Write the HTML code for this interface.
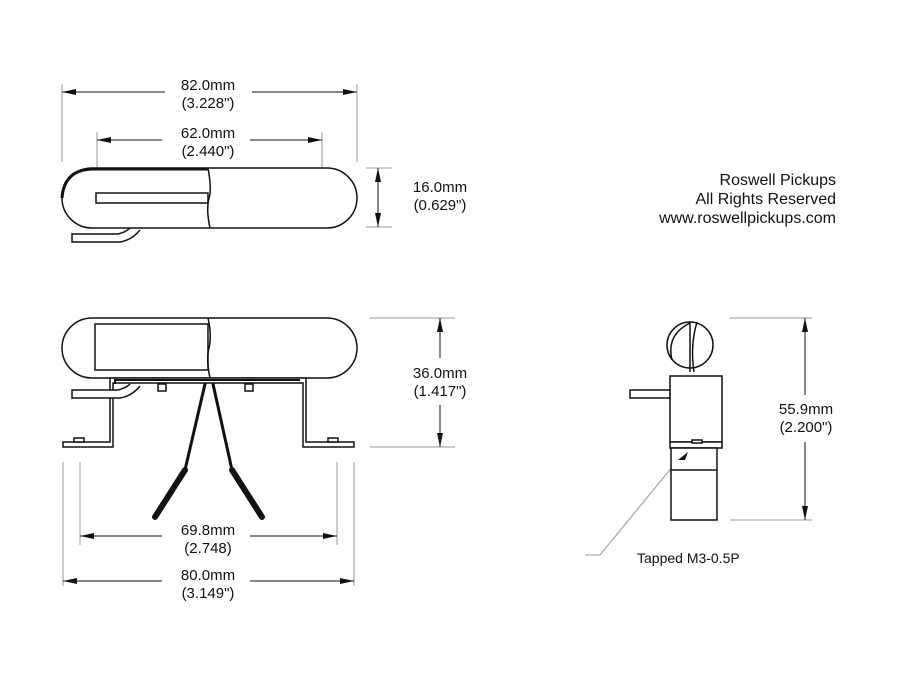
<!DOCTYPE html>
<html><head><style>body{margin:0;background:#fff}svg{display:block}text{font-family:"Liberation Sans",sans-serif;fill:#111}</style></head><body>
<svg width="900" height="675" viewBox="0 0 900 675" xmlns="http://www.w3.org/2000/svg">
<defs><marker id="a" viewBox="0 0 14 6" refX="14" refY="3" markerWidth="14" markerHeight="6" orient="auto-start-reverse" markerUnits="userSpaceOnUse"><path d="M0,0L14,3L0,6z" fill="#111"/></marker></defs>
<g stroke="#999" stroke-width="1" fill="none">
<line x1="62" y1="84" x2="62" y2="162"/><line x1="357" y1="84" x2="357" y2="162"/>
<line x1="97" y1="132" x2="97" y2="182"/><line x1="322" y1="132" x2="322" y2="182"/>
<line x1="366" y1="168" x2="392" y2="168"/><line x1="366" y1="227" x2="392" y2="227"/>
<line x1="370" y1="318" x2="455" y2="318"/><line x1="370" y1="447" x2="455" y2="447"/>
<line x1="63" y1="462" x2="63" y2="586"/><line x1="354" y1="462" x2="354" y2="586"/>
<line x1="80" y1="462" x2="80" y2="545"/><line x1="337" y1="462" x2="337" y2="545"/>
<line x1="730" y1="318" x2="812" y2="318"/><line x1="730" y1="520" x2="812" y2="520"/>
<polyline points="682,455 600,555 585,555"/>
</g>
<g stroke="#111" stroke-width="1" fill="none">
<line x1="62" y1="92" x2="165" y2="92" marker-start="url(#a)"/><line x1="252" y1="92" x2="357" y2="92" marker-end="url(#a)"/>
<line x1="97" y1="140" x2="162" y2="140" marker-start="url(#a)"/><line x1="250" y1="140" x2="322" y2="140" marker-end="url(#a)"/>
<line x1="378" y1="168" x2="378" y2="227" marker-start="url(#a)" marker-end="url(#a)"/>
<line x1="80" y1="536" x2="162" y2="536" marker-start="url(#a)"/><line x1="250" y1="536" x2="337" y2="536" marker-end="url(#a)"/>
<line x1="63" y1="581" x2="162" y2="581" marker-start="url(#a)"/><line x1="250" y1="581" x2="354" y2="581" marker-end="url(#a)"/>
<line x1="440" y1="318" x2="440" y2="358" marker-start="url(#a)"/><line x1="440" y1="405" x2="440" y2="447" marker-end="url(#a)"/>
<line x1="805" y1="318" x2="805" y2="395" marker-start="url(#a)"/><line x1="805" y1="442" x2="805" y2="520" marker-end="url(#a)"/>
</g>
<g fill="#fff" stroke="#111" stroke-width="1.5">
<path d="M140,230 Q132,240 120,242 L72,242 L72,234 L118,234 Q126,232 130,228"/>
<rect x="62" y="168" width="295" height="60" rx="30"/>
<rect x="96" y="193" width="112" height="10" fill="#fff"/>
<path d="M208,168 Q212,190 209,198 Q206,210 210,228"/>
<path d="M62,198 Q64,170 92,169 L208,169" stroke-width="3" fill="none"/>
<rect x="62" y="318" width="295" height="60" rx="30"/>
<rect x="95" y="324" width="113" height="46"/>
<path d="M208,318 Q212,335 209,348 Q206,360 210,378" fill="none"/>
<path d="M110,378 L306,378 L306,442 L354,442 L354,447 L303,447 L303,383 L113,383 L113,447 L63,447 L63,442 L110,442 Z"/>
<path d="M115,384 L115,380 L300,380" fill="none" stroke-width="2"/>
<path d="M140,386 Q132,396 120,398 L72,398 L72,390 L118,390 Q126,388 130,384"/>
<rect x="158" y="384" width="8" height="7"/><rect x="245" y="384" width="8" height="7"/>
<rect x="74" y="438" width="10" height="4"/><rect x="328" y="438" width="10" height="4"/>
</g>
<g stroke="#111" fill="none" stroke-linecap="round">
<polyline points="205,384 185,470" stroke-width="3"/><polyline points="185,470 155,517" stroke-width="6"/>
<polyline points="213,384 232,470" stroke-width="3"/><polyline points="232,470 262,517" stroke-width="6"/>
</g>
<g fill="#fff" stroke="#111" stroke-width="1.5">
<circle cx="690" cy="345" r="23"/>
<path d="M672,360 Q666,335 690,323 M697,322 Q690,345 694,372 M690,322 L690,372" fill="none"/>
<rect x="630" y="390" width="40" height="8"/>
<rect x="670" y="376" width="52" height="66"/>
<rect x="670" y="442" width="52" height="6"/>
<rect x="692" y="440" width="10" height="3"/>
<rect x="671" y="448" width="46" height="72"/>
<line x1="671" y1="470" x2="717" y2="470"/>
</g>
<path d="M678,460 L688,452 L685,460 Z" fill="#111"/>
<g font-size="15" text-anchor="middle">
<text x="208" y="90">82.0mm</text><text x="208" y="108">(3.228")</text>
<text x="208" y="138">62.0mm</text><text x="208" y="156">(2.440")</text>
<text x="440" y="192">16.0mm</text><text x="440" y="210">(0.629")</text>
<text x="440" y="378">36.0mm</text><text x="440" y="396">(1.417")</text>
<text x="208" y="535">69.8mm</text><text x="208" y="553">(2.748)</text>
<text x="208" y="580">80.0mm</text><text x="208" y="598">(3.149")</text>
<text x="806" y="414">55.9mm</text><text x="806" y="432">(2.200")</text>
</g>
<g font-size="16" text-anchor="end">
<text x="836" y="185">Roswell Pickups</text><text x="836" y="204">All Rights Reserved</text><text x="836" y="223">www.roswellpickups.com</text>
</g>
<text x="637" y="563" font-size="14">Tapped M3-0.5P</text>
</svg>
</body></html>
